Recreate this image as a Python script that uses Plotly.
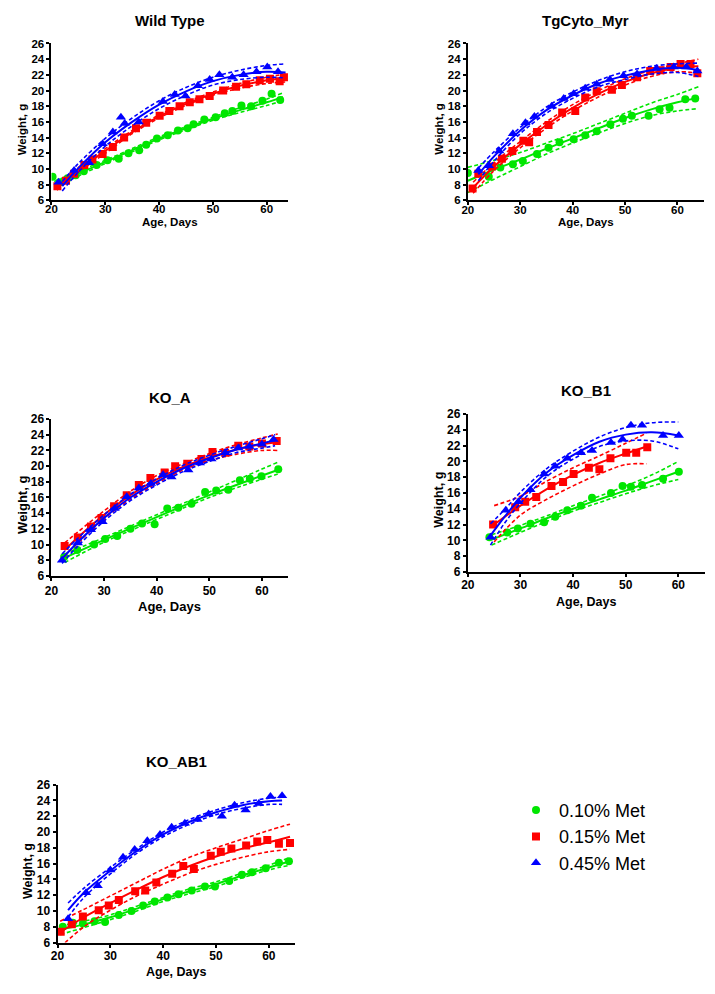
import plotly.graph_objects as go

W, H = 715, 994

# ---------------- Data ----------------
SERIES_NAMES = ["0.10% Met", "0.15% Met", "0.45% Met"]
PANEL_TITLES = ["Wild Type", "TgCyto_Myr", "KO_A", "KO_B1", "KO_AB1"]
X_TICKS = [20, 30, 40, 50, 60]
Y_TICKS = [6, 8, 10, 12, 14, 16, 18, 20, 22, 24, 26]

# --- Wild Type ---
WT_G_X = [20.2, 21.5, 23, 24.5, 26, 28.4, 30.4, 32.5, 34.3, 36.3, 37.6, 39.6, 41.6, 43.5, 45.3, 46.4, 48.4, 50.5, 52.2, 53.6, 55.3, 57.1, 59.2, 60.9, 62.5]
WT_G_Y = [9.0, 8.3, 8.8, 9.2, 9.7, 10.5, 11.1, 11.3, 12.0, 12.4, 13.1, 13.9, 14.3, 14.9, 15.2, 15.7, 16.3, 16.6, 17.1, 17.4, 18.1, 18.0, 18.7, 19.6, 18.8]
WT_R_X = [21.1, 22.7, 24.2, 26.1, 27.6, 29.5, 31.4, 33.5, 35.7, 37.6, 40.1, 41.9, 43.8, 45.7, 47.5, 49.4, 51.9, 54.3, 56.2, 58.7, 60.6, 62.4, 63.2]
WT_R_Y = [7.8, 8.5, 9.4, 10.5, 11.2, 11.9, 12.8, 14.0, 15.2, 15.9, 16.8, 17.4, 18.0, 18.5, 18.9, 19.3, 20.0, 20.5, 20.8, 21.3, 21.5, 21.2, 21.7]
WT_B_X = [21.3, 24.2, 27.0, 29.5, 31.4, 32.9, 33.6, 36.2, 40.7, 42.9, 44.9, 47.2, 49.4, 51.2, 53.6, 55.7, 58.1, 60.1, 62.1]
WT_B_Y = [8.3, 9.8, 10.8, 13.2, 14.7, 16.6, 15.8, 16.0, 18.6, 19.5, 19.3, 20.6, 21.4, 22.0, 21.7, 22.0, 22.4, 23.0, 22.4]
WT_G_FX = [20.5, 25, 30, 35, 40, 45, 50, 55, 60, 63]
WT_G_FIT = [8.0, 9.4, 10.9, 12.4, 13.9, 15.2, 16.4, 17.5, 18.5, 19.2]
WT_G_HI = [8.4, 9.7, 11.1, 12.6, 14.1, 15.4, 16.6, 17.8, 18.9, 19.7]
WT_G_LO = [7.6, 9.1, 10.7, 12.2, 13.7, 15.0, 16.2, 17.2, 18.1, 18.7]
WT_R_FX = [21, 25, 30, 35, 40, 45, 50, 55, 60, 63.5]
WT_R_FIT = [7.7, 9.9, 12.3, 14.7, 16.7, 18.3, 19.6, 20.6, 21.3, 21.6]
WT_R_HI = [8.1, 10.2, 12.6, 14.9, 16.9, 18.5, 19.8, 20.9, 21.7, 22.1]
WT_R_LO = [7.3, 9.6, 12.0, 14.5, 16.5, 18.1, 19.4, 20.3, 20.9, 21.1]
WT_B_FX = [22, 25, 30, 35, 40, 45, 50, 55, 60, 63.5]
WT_B_FIT = [7.8, 10.1, 13.4, 16.0, 18.2, 19.9, 21.2, 22.0, 22.4, 22.3]
WT_B_HI = [8.4, 10.7, 13.9, 16.5, 18.7, 20.4, 21.7, 22.6, 23.2, 23.4]
WT_B_LO = [7.2, 9.6, 12.9, 15.5, 17.7, 19.4, 20.7, 21.4, 21.7, 21.6]

# --- TgCyto_Myr ---
TG_G_X = [20, 24, 26.2, 28.6, 30.5, 33.2, 35.4, 37.5, 40.2, 42.4, 44.6, 47.2, 49.6, 51.3, 54.5, 56.6, 58.5, 61.5, 63.4]
TG_G_Y = [9.5, 9.0, 10.2, 10.6, 11.0, 11.9, 12.7, 13.4, 13.8, 14.3, 14.8, 15.7, 16.4, 16.8, 16.8, 17.6, 17.8, 18.9, 19.0]
TG_R_X = [20.9, 22, 24.6, 26.5, 28.5, 30.6, 31.7, 33.2, 35.4, 38, 40.5, 42.4, 44.6, 47.5, 49.4, 52.3, 54.8, 56.8, 58.7, 60.6, 62.5, 63.8]
TG_R_Y = [7.5, 9.4, 10.3, 11.3, 12.3, 13.6, 13.4, 14.7, 15.6, 17.2, 17.4, 19.1, 19.9, 20.1, 20.7, 21.7, 22.5, 22.6, 23.0, 23.4, 23.4, 22.2]
TG_B_X = [22, 24, 26, 28.6, 31, 32.7, 36, 38.3, 40.2, 42.4, 44.6, 47.1, 49.7, 52.3, 56, 59.3, 61.7, 63.8]
TG_B_Y = [9.8, 10.4, 12.3, 14.5, 15.9, 16.7, 18.0, 19.0, 19.6, 20.3, 20.8, 21.4, 21.9, 22.1, 22.8, 23.0, 23.0, 22.5]
TG_G_FX = [20, 25, 30, 35, 40, 45, 50, 55, 60, 64]
TG_G_FIT = [8.5, 9.9, 11.2, 12.6, 13.9, 15.2, 16.5, 17.6, 18.5, 19.1]
TG_G_HI = [10.2, 11.1, 12.1, 13.3, 14.5, 15.8, 17.1, 18.4, 19.5, 20.5]
TG_G_LO = [7.0, 8.7, 10.3, 11.9, 13.3, 14.6, 15.8, 16.8, 17.4, 17.7]
TG_R_FX = [21, 25, 30, 35, 40, 45, 50, 55, 60, 64]
TG_R_FIT = [7.6, 10.3, 13.1, 15.6, 17.8, 19.6, 21.1, 22.2, 22.9, 23.1]
TG_R_HI = [8.3, 10.8, 13.5, 16.0, 18.2, 20.0, 21.5, 22.6, 23.4, 24.0]
TG_R_LO = [6.9, 9.8, 12.7, 15.2, 17.4, 19.2, 20.7, 21.8, 22.4, 22.2]
TG_B_FX = [22, 25, 30, 35, 40, 45, 50, 55, 60, 64]
TG_B_FIT = [9.3, 11.6, 14.9, 17.5, 19.4, 20.9, 21.9, 22.6, 22.9, 22.6]
TG_B_HI = [10.1, 12.2, 15.3, 17.9, 19.8, 21.3, 22.4, 23.1, 23.4, 23.5]
TG_B_LO = [8.5, 11.0, 14.5, 17.1, 19.0, 20.5, 21.4, 22.1, 22.3, 21.8]

# --- KO_A ---
KA_G_X = [22.4, 24.9, 28.1, 30.2, 32.5, 35.0, 37.2, 39.6, 42.0, 44.1, 46.6, 49.2, 51.3, 53.6, 55.8, 57.7, 59.9, 63.1]
KA_G_Y = [8.4, 9.3, 10.0, 10.7, 11.1, 12.0, 12.7, 12.6, 14.6, 14.7, 15.2, 16.7, 16.9, 17.0, 18.2, 18.4, 18.7, 19.6]
KA_R_X = [22.5, 25, 27.5, 29.5, 31.9, 34.3, 36.6, 38.8, 41.5, 43.5, 45.8, 48.5, 50.6, 53, 55.5, 57.6, 60, 62.8]
KA_R_Y = [9.8, 10.9, 12.3, 13.4, 14.9, 16.3, 17.6, 18.5, 19.2, 20.0, 20.3, 20.9, 21.8, 21.7, 22.6, 22.5, 22.9, 23.2]
KA_B_X = [22, 25, 27.5, 29.7, 32, 34.3, 36.6, 38.9, 41.2, 42.8, 46, 48.2, 50.4, 53, 55.5, 57.6, 60, 62.2]
KA_B_Y = [8.0, 10.2, 11.9, 12.9, 14.6, 16.1, 17.2, 17.8, 18.9, 18.6, 19.5, 20.4, 20.9, 21.7, 22.3, 22.5, 22.8, 23.4]
KA_G_FX = [22.5, 30, 40, 50, 63]
KA_G_FIT = [8.3, 10.6, 13.5, 16.3, 19.5]
KA_G_HI = [8.8, 10.9, 13.8, 16.7, 20.5]
KA_G_LO = [7.7, 10.3, 13.2, 16.0, 19.0]
KA_R_FX = [22.5, 25, 30, 35, 40, 45, 50, 55, 60, 63]
KA_R_FIT = [9.3, 10.9, 13.8, 16.3, 18.3, 19.9, 21.1, 22.1, 22.8, 23.0]
KA_R_HI = [10.2, 11.6, 14.3, 16.8, 18.8, 20.3, 21.6, 22.7, 23.6, 24.1]
KA_R_LO = [8.5, 10.2, 13.3, 15.8, 17.8, 19.5, 20.7, 21.5, 22.0, 22.0]
KA_B_FX = [22, 25, 30, 35, 40, 45, 50, 55, 60, 62.5]
KA_B_FIT = [8.2, 10.3, 13.4, 16.0, 18.0, 19.7, 21.0, 22.1, 22.9, 23.3]
KA_B_HI = [8.8, 10.8, 13.8, 16.4, 18.4, 20.1, 21.4, 22.5, 23.5, 24.0]
KA_B_LO = [7.6, 9.8, 13.0, 15.6, 17.6, 19.3, 20.6, 21.7, 22.3, 22.6]

# --- KO_B1 ---
KB_G_X = [24.1, 27.5, 29.5, 31.9, 34.5, 36.6, 38.9, 41.5, 43.6, 47.2, 49.4, 51, 53.1, 57.1, 60.1]
KB_G_Y = [10.4, 11.0, 11.5, 12.1, 12.3, 13.0, 13.8, 14.4, 15.4, 16.0, 16.9, 16.8, 17.0, 17.8, 18.7]
KB_R_X = [24.8, 29, 30.9, 33, 35.9, 38.1, 40.1, 43, 45, 47.1, 50.1, 52, 54.1]
KB_R_Y = [12.0, 14.2, 14.9, 15.5, 16.9, 17.4, 18.4, 19.2, 19.0, 20.4, 21.1, 21.1, 21.8]
KB_B_X = [24.3, 27.2, 29.6, 31.9, 34.5, 36.6, 38.9, 41.5, 43.6, 47.2, 49.4, 51, 53.1, 57.1, 60.1]
KB_B_Y = [10.4, 13.8, 14.9, 16.4, 18.4, 19.4, 20.4, 21.1, 21.4, 22.4, 22.8, 24.6, 24.6, 23.3, 23.3]
KB_G_FX = [24.5, 30, 35, 40, 45, 50, 55, 60]
KB_G_FIT = [10.1, 11.5, 12.8, 14.0, 15.2, 16.3, 17.5, 18.7]
KB_G_HI = [10.7, 11.9, 13.1, 14.4, 15.6, 16.9, 18.3, 20.0]
KB_G_LO = [9.4, 11.0, 12.4, 13.7, 14.8, 15.9, 16.9, 17.7]
KB_R_FX = [25, 30, 35, 40, 45, 50, 54]
KB_R_FIT = [12.0, 14.4, 16.5, 18.3, 19.8, 21.0, 21.9]
KB_R_HI = [14.4, 15.6, 17.5, 19.2, 20.7, 22.3, 23.6]
KB_R_LO = [9.8, 13.2, 15.2, 16.9, 18.4, 19.6, 19.7]
KB_B_FX = [24.3, 27, 30, 35, 40, 45, 50, 55, 60]
KB_B_FIT = [10.6, 13.0, 15.4, 18.6, 20.8, 22.5, 23.4, 23.7, 23.3]
KB_B_HI = [12.1, 13.9, 16.1, 19.1, 21.3, 23.1, 24.3, 24.9, 25.0]
KB_B_LO = [9.4, 12.2, 14.7, 18.1, 20.3, 21.9, 22.6, 22.6, 21.6]

# --- KO_AB1 ---
KAB_G_X = [21, 22.9, 24.8, 27, 29, 31.6, 34, 36.2, 38.4, 40.8, 42.9, 45.4, 47.9, 49.8, 52.5, 54.9, 56.8, 59.4, 61.9, 63.8]
KAB_G_Y = [8.0, 8.5, 8.4, 8.7, 8.6, 9.5, 10.0, 10.7, 11.2, 11.7, 12.1, 12.6, 13.1, 13.1, 13.8, 14.6, 14.9, 15.4, 16.1, 16.3]
KAB_R_X = [20.6, 22.7, 24.8, 27.8, 29.7, 31.6, 34.7, 36.6, 38.7, 41.7, 43.8, 45.8, 49, 50.9, 52.9, 55.7, 57.8, 59.7, 61.9, 64]
KAB_R_Y = [7.35, 8.3, 9.3, 10.1, 10.7, 11.4, 12.5, 12.6, 13.6, 14.7, 15.7, 15.3, 17.0, 17.5, 17.9, 18.3, 18.8, 19.0, 18.5, 18.6]
KAB_B_X = [22, 25.4, 27.6, 30, 32.4, 34.6, 37, 39.4, 41.6, 44.1, 46.5, 48.6, 51.1, 53.5, 55.6, 58.1, 60.3, 62.5]
KAB_B_Y = [9.0, 12.3, 13.2, 15.2, 16.8, 17.8, 18.9, 19.7, 20.6, 21.1, 21.6, 22.3, 22.0, 23.4, 22.8, 23.6, 24.5, 24.6]
KAB_G_FX = [20.5, 25, 30, 35, 40, 45, 50, 55, 60, 64]
KAB_G_FIT = [7.6, 8.3, 9.2, 10.3, 11.5, 12.5, 13.4, 14.5, 15.5, 16.3]
KAB_G_HI = [8.1, 8.7, 9.5, 10.6, 11.7, 12.8, 13.7, 14.8, 15.8, 16.8]
KAB_G_LO = [7.0, 7.9, 8.9, 10.0, 11.2, 12.2, 13.1, 14.2, 15.2, 15.8]
KAB_R_FX = [20.5, 25, 30, 35, 40, 45, 50, 55, 60, 64]
KAB_R_FIT = [7.3, 9.2, 11.0, 12.7, 14.3, 15.7, 16.9, 17.9, 18.7, 19.4]
KAB_R_HI = [8.7, 10.2, 11.9, 13.6, 15.3, 16.8, 18.0, 19.1, 20.2, 21.0]
KAB_R_LO = [5.4, 8.0, 10.1, 11.9, 13.4, 14.8, 15.9, 16.8, 17.5, 17.8]
KAB_B_FX = [22, 25, 30, 35, 40, 45, 50, 55, 60, 62.5]
KAB_B_FIT = [10.1, 12.3, 15.1, 17.6, 19.7, 21.3, 22.5, 23.4, 23.9, 24.0]
KAB_B_HI = [11.0, 12.9, 15.5, 17.9, 20.0, 21.6, 22.8, 23.7, 24.3, 24.4]
KAB_B_LO = [9.2, 11.7, 14.7, 17.3, 19.4, 21.0, 22.2, 23.0, 23.5, 23.5]

# ---------------- Styling / layout ----------------
COLORS = ["#00E600", "#FF0000", "#0000FF"]
SYMBOLS = ["circle", "square", "triangle-up"]
MSIZES = [8, 8, 9]

# target pixel boxes: (left, right, top, bottom)
PANEL_BOX = [(49, 285, 43, 200), (464, 699, 43, 200), (49, 285, 419, 576),
             (464, 700, 414, 572), (55, 292, 785, 943)]
X_MAX = [64, 65, 65, 65, 65]
TITLE_Y = [20, 20, 397, 390, 762]
YTITLE_X = [20, 435, 20, 435, 25]
XTITLE_Y = [222, 222, 607, 602, 973]
AXTITLE_SIZE = [11.5, 11.5, 13, 12.5, 12.5]
TICK_SIZE = [11.5, 11.5, 12, 12, 12]
X_LABEL_STANDOFF = [-6, -5, 0, -2, -2]

# the screenshot comes out slightly shrunk about the page centre; compensate
K = 1 / 0.987
def fxp(x):
    return (357.5 + (x - 357.5) * K) / W
def fyp(y):
    return 1 - (497 + (y - 497) * K) / H

panel_series = [
    [(WT_G_X, WT_G_Y, WT_G_FX, WT_G_FIT, WT_G_LO, WT_G_HI),
     (WT_R_X, WT_R_Y, WT_R_FX, WT_R_FIT, WT_R_LO, WT_R_HI),
     (WT_B_X, WT_B_Y, WT_B_FX, WT_B_FIT, WT_B_LO, WT_B_HI)],
    [(TG_G_X, TG_G_Y, TG_G_FX, TG_G_FIT, TG_G_LO, TG_G_HI),
     (TG_R_X, TG_R_Y, TG_R_FX, TG_R_FIT, TG_R_LO, TG_R_HI),
     (TG_B_X, TG_B_Y, TG_B_FX, TG_B_FIT, TG_B_LO, TG_B_HI)],
    [(KA_G_X, KA_G_Y, KA_G_FX, KA_G_FIT, KA_G_LO, KA_G_HI),
     (KA_R_X, KA_R_Y, KA_R_FX, KA_R_FIT, KA_R_LO, KA_R_HI),
     (KA_B_X, KA_B_Y, KA_B_FX, KA_B_FIT, KA_B_LO, KA_B_HI)],
    [(KB_G_X, KB_G_Y, KB_G_FX, KB_G_FIT, KB_G_LO, KB_G_HI),
     (KB_R_X, KB_R_Y, KB_R_FX, KB_R_FIT, KB_R_LO, KB_R_HI),
     (KB_B_X, KB_B_Y, KB_B_FX, KB_B_FIT, KB_B_LO, KB_B_HI)],
    [(KAB_G_X, KAB_G_Y, KAB_G_FX, KAB_G_FIT, KAB_G_LO, KAB_G_HI),
     (KAB_R_X, KAB_R_Y, KAB_R_FX, KAB_R_FIT, KAB_R_LO, KAB_R_HI),
     (KAB_B_X, KAB_B_Y, KAB_B_FX, KAB_B_FIT, KAB_B_LO, KAB_B_HI)],
]

FONT = "Liberation Sans, Arial, sans-serif"

fig = go.Figure()
layout = dict(
    width=W, height=H, margin=dict(l=0, r=0, t=0, b=0),
    paper_bgcolor="white", plot_bgcolor="white",
    font=dict(family=FONT, color="black"),
    showlegend=True,
    legend=dict(x=511 / W, y=1 - 796 / H, xanchor="left", yanchor="top",
                font=dict(family=FONT, size=18, color="black"),
                bgcolor="rgba(0,0,0,0)", itemwidth=36, tracegroupgap=0),
)
annotations = []

for p, series in enumerate(panel_series):
    sfx = "" if p == 0 else str(p + 1)
    xa, ya = "x" + sfx, "y" + sfx
    l, r, t, b = PANEL_BOX[p]
    axis_common = dict(showgrid=False, zeroline=False, showline=True, linecolor="black",
                       linewidth=2, ticks="outside", ticklen=3, tickwidth=1.5, tickcolor="black",
                       tickfont=dict(family=FONT, size=TICK_SIZE[p], color="black", weight="bold"))
    layout["xaxis" + sfx] = dict(domain=[fxp(l), fxp(r)], range=[20, X_MAX[p]], anchor=ya,
                                 tickvals=X_TICKS, ticklabelstandoff=X_LABEL_STANDOFF[p],
                                 **axis_common)
    layout["yaxis" + sfx] = dict(domain=[fyp(b), fyp(t)], range=[6, 26], anchor=xa,
                                 tickvals=Y_TICKS, **axis_common)
    for s, (px, py, fx, fit, lo, hi) in enumerate(series):
        c = COLORS[s]
        for band in (lo, hi):
            fig.add_trace(go.Scatter(x=fx, y=band, mode="lines", xaxis=xa, yaxis=ya,
                                     line=dict(color=c, width=1.6, dash="4px,2.5px", shape="spline"),
                                     showlegend=False, hoverinfo="skip"))
        fig.add_trace(go.Scatter(x=fx, y=fit, mode="lines", xaxis=xa, yaxis=ya,
                                 line=dict(color=c, width=2, shape="spline"),
                                 showlegend=False, hoverinfo="skip"))
        fig.add_trace(go.Scatter(x=px, y=py, mode="markers", xaxis=xa, yaxis=ya,
                                 marker=dict(color=c, symbol=SYMBOLS[s], size=MSIZES[s]),
                                 name=SERIES_NAMES[s], showlegend=(p == 0),
                                 legendrank=s + 1))
    cx = (l + r) / 2
    annotations.append(dict(text=PANEL_TITLES[p], x=fxp(cx), y=fyp(TITLE_Y[p]),
                            xref="paper", yref="paper", showarrow=False,
                            xanchor="center", yanchor="middle",
                            font=dict(family=FONT, size=15, color="black", weight="bold")))
    annotations.append(dict(text="Weight, g", x=fxp(YTITLE_X[p]), y=fyp((t + b) / 2 + 7),
                            xref="paper", yref="paper", showarrow=False, textangle=-90,
                            xanchor="center", yanchor="middle",
                            font=dict(family=FONT, size=AXTITLE_SIZE[p], color="black", weight="bold")))
    annotations.append(dict(text="Age, Days", x=fxp(cx), y=fyp(XTITLE_Y[p]),
                            xref="paper", yref="paper", showarrow=False,
                            xanchor="center", yanchor="middle",
                            font=dict(family=FONT, size=AXTITLE_SIZE[p], color="black", weight="bold")))

layout["annotations"] = annotations
fig.update_layout(**layout)

PAGE_FIX = ("var d=document.getElementById('{plot_id}');"
            "d.style.position='fixed';d.style.left='0px';d.style.top='0px';"
            "document.documentElement.style.margin='0';document.documentElement.style.padding='0';"
            "document.body.style.margin='0';document.body.style.padding='0';"
            "document.documentElement.style.overflow='hidden';document.body.style.overflow='hidden';")
fig.write_html("out.html", config={"displayModeBar": False}, post_script=PAGE_FIX)
